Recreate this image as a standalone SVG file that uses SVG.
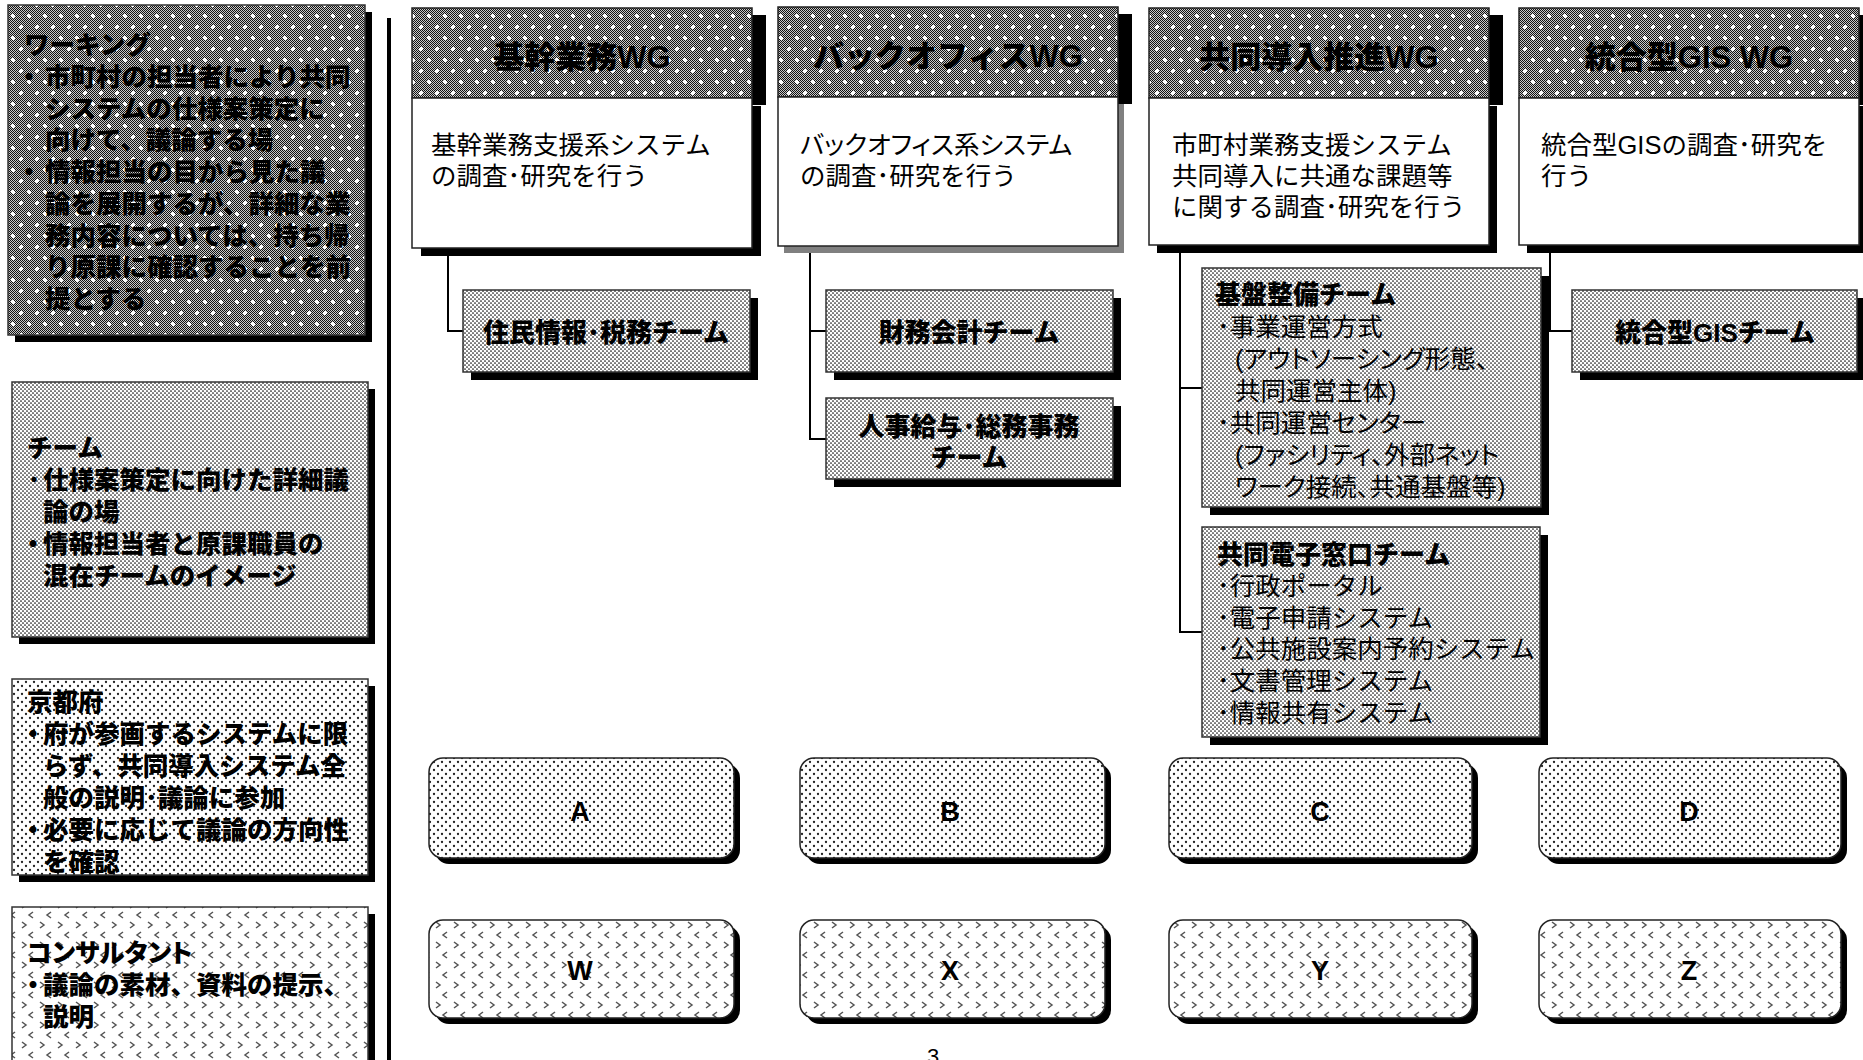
<svg xmlns="http://www.w3.org/2000/svg" width="1863" height="1060" viewBox="0 0 1863 1060">
<defs>
<style>
text { font-family: "Liberation Sans", "Noto Sans CJK JP", sans-serif; fill: #000; }
.lb { font-size: 25.5px; font-weight: 900; }
.bu { font-size: 25px; font-weight: 900; text-anchor: middle; }
.hd { font-size: 31px; font-weight: 900; text-anchor: middle; }
.bd { font-size: 25.5px; }
.tm { font-size: 26px; font-weight: 900; text-anchor: middle; }
.tt { font-size: 26px; font-weight: 900; }
.ls { font-size: 25.5px; }
.pa { font-feature-settings: "palt"; }
.ltr { font-family: "Liberation Sans Narrow", "Liberation Sans", sans-serif; font-size: 27px; font-weight: 700; text-anchor: middle; }
.pg { font-size: 22px; text-anchor: middle; }
.frame { stroke: #333; stroke-width: 1.5; }
.wg { stroke: #222; stroke-width: 1.5; }
.sh { fill: #000; }
.conn { fill: none; stroke: #000; stroke-width: 2; }
</style>
<pattern id="chk" width="2" height="2" patternUnits="userSpaceOnUse">
<rect width="2" height="2" fill="#c8c8c8"/>
<rect width="1" height="1" fill="#111"/>
<rect x="1" y="1" width="1" height="1" fill="#111"/>
</pattern>
<pattern id="pHdr" width="16" height="22" patternUnits="userSpaceOnUse">
<rect width="16" height="22" fill="url(#chk)"/>
<path d="M3 4h4v2h-4z M4 3h2v4h-2z M11 15h4v2h-4z M12 14h2v4h-2z" fill="#fff"/>
</pattern>
<pattern id="pDense" width="4" height="4" patternUnits="userSpaceOnUse">
<rect width="4" height="4" fill="#fff"/>
<circle cx="1" cy="1" r="0.85" fill="#111"/>
<circle cx="3" cy="3" r="0.85" fill="#111"/>
</pattern>
<pattern id="pSparse" width="8" height="8" patternUnits="userSpaceOnUse">
<rect width="8" height="8" fill="#fff"/>
<circle cx="2" cy="2" r="1.15" fill="#222"/>
<circle cx="6" cy="6" r="1.15" fill="#222"/>
</pattern>
<pattern id="pChev" width="18" height="20" patternUnits="userSpaceOnUse">
<rect width="18" height="20" fill="#fff"/>
<path d="M4 2 L8 5 L4 8 M15 12 L11 15 L15 18" fill="none" stroke="#555" stroke-width="1.5"/>
</pattern>
</defs>

<rect width="1863" height="1060" fill="#fff"/>

<rect x="387" y="18" width="4" height="1042" fill="#000"/>

<g id="connectors">
<path class="conn" d="M448 248 V331 H463"/>
<path class="conn" d="M810 247 V439 H826 M810 331 H826"/>
<path class="conn" d="M1180 247 V632 H1202 M1180 388 H1202"/>
<path class="conn" d="M1550 247 V331 H1572"/>
</g>

<g id="legend-working">
<rect class="sh" x="15" y="12" width="357" height="330"/>
<rect class="frame" x="8" y="5" width="357" height="330" fill="url(#pHdr)"/>
<text class="lb" x="24" y="54">ワーキング</text>
<text class="bu" x="29" y="86">・</text>
<text class="lb" x="45" y="86">市町村の担当者により共同</text>
<text class="lb" x="45" y="118">システムの仕様案策定に</text>
<text class="lb" x="45" y="149">向けて、議論する場</text>
<text class="bu" x="29" y="181">・</text>
<text class="lb" x="45" y="181">情報担当の目から見た議</text>
<text class="lb" x="45" y="213">論を展開するが、詳細な業</text>
<text class="lb" x="45" y="245">務内容については、持ち帰</text>
<text class="lb" x="45" y="276">り原課に確認することを前</text>
<text class="lb" x="45" y="308">提とする</text>
</g>

<g id="legend-team">
<rect class="sh" x="19" y="389" width="356" height="255"/>
<rect class="frame" x="12" y="382" width="356" height="255" fill="url(#pDense)"/>
<text class="lb" x="27" y="457">チーム</text>
<text class="bu" x="34" y="489">･</text>
<text class="lb" x="43" y="489">仕様案策定に向けた詳細議</text>
<text class="lb" x="43" y="521">論の場</text>
<text class="bu" x="33" y="553">・</text>
<text class="lb" x="43" y="553">情報担当者と原課職員の</text>
<text class="lb" x="43" y="585">混在チームのイメージ</text>
</g>

<g id="legend-kyoto">
<rect class="sh" x="19" y="686" width="356" height="196"/>
<rect class="frame" x="12" y="679" width="356" height="196" fill="url(#pSparse)"/>
<text class="lb" x="27" y="711">京都府</text>
<text class="bu" x="33" y="743">・</text>
<text class="lb" x="43" y="743">府が参画するシステムに限</text>
<text class="lb" x="43" y="775">らず、共同導入システム全</text>
<text class="lb" x="43" y="807">般の説明･議論に参加</text>
<text class="bu" x="33" y="839">・</text>
<text class="lb" x="43" y="839">必要に応じて議論の方向性</text>
<text class="lb" x="43" y="871">を確認</text>
</g>

<g id="legend-consultant">
<rect class="sh" x="19" y="914" width="356" height="170"/>
<rect class="frame" x="12" y="907" width="356" height="170" fill="url(#pChev)"/>
<text class="lb pa" x="27" y="962">コンサルタント</text>
<text class="bu" x="33" y="994">・</text>
<text class="lb" x="43" y="994">議論の素材、資料の提示、</text>
<text class="lb" x="43" y="1026">説明</text>
</g>

<g id="wg-kikan">
<rect class="sh" x="426" y="15" width="340" height="90"/>
<rect class="sh" x="421" y="106" width="340" height="150"/>
<rect class="wg" x="412" y="8" width="340" height="90" fill="url(#pHdr)"/>
<rect class="wg" x="412" y="98" width="340" height="150" fill="#fff"/>
<text class="hd" x="582" y="68">基幹業務WG</text>
<text class="bd" x="431" y="154">基幹業務支援系システム</text>
<text class="bd" x="431" y="185">の調査･研究を行う</text>
</g>

<g id="wg-backoffice">
<rect class="sh" x="792" y="14" width="340" height="90"/>
<rect x="784" y="104" width="340" height="149" fill="#808080"/>
<rect class="wg" x="778" y="7" width="340" height="90" fill="url(#pHdr)"/>
<rect class="wg" x="778" y="97" width="340" height="149" fill="#fff"/>
<text class="hd" x="948" y="67">バックオフィスWG</text>
<text class="bd pa" x="800" y="154">バックオフィス系システム</text>
<text class="bd" x="800" y="185">の調査･研究を行う</text>
</g>

<g id="wg-kyodo">
<rect class="sh" x="1163" y="15" width="340" height="90"/>
<rect class="sh" x="1157" y="106" width="340" height="147"/>
<rect class="wg" x="1149" y="8" width="340" height="90" fill="url(#pHdr)"/>
<rect class="wg" x="1149" y="98" width="340" height="147" fill="#fff"/>
<text class="hd" x="1319" y="68">共同導入推進WG</text>
<text class="bd" x="1172" y="154">市町村業務支援システム</text>
<text class="bd" x="1172" y="185">共同導入に共通な課題等</text>
<text class="bd" x="1172" y="216">に関する調査･研究を行う</text>
</g>

<g id="wg-gis">
<rect class="sh" x="1533" y="15" width="340" height="90"/>
<rect class="sh" x="1527" y="106" width="340" height="147"/>
<rect class="wg" x="1519" y="8" width="340" height="90" fill="url(#pHdr)"/>
<rect class="wg" x="1519" y="98" width="340" height="147" fill="#fff"/>
<text class="hd" x="1689" y="68">統合型GIS WG</text>
<text class="bd" x="1541" y="154">統合型GISの調査･研究を</text>
<text class="bd" x="1541" y="185">行う</text>
</g>

<g id="team-jumin">
<rect class="sh" x="471" y="298" width="287" height="82"/>
<rect class="frame" x="463" y="290" width="287" height="82" fill="url(#pDense)"/>
<text class="tm" x="606" y="342">住民情報･税務チーム</text>
</g>

<g id="team-zaimu">
<rect class="sh" x="834" y="298" width="287" height="82"/>
<rect class="frame" x="826" y="290" width="287" height="82" fill="url(#pDense)"/>
<text class="tm" x="969" y="342">財務会計チーム</text>
</g>

<g id="team-jinji">
<rect class="sh" x="834" y="406" width="287" height="81"/>
<rect class="frame" x="826" y="398" width="287" height="81" fill="url(#pDense)"/>
<text class="tm" x="969" y="436">人事給与･総務事務</text>
<text class="tm" x="969" y="467">チーム</text>
</g>

<g id="team-kiban">
<rect class="sh" x="1210" y="276" width="339" height="239"/>
<rect class="frame" x="1202" y="268" width="339" height="239" fill="url(#pDense)"/>
<text class="tt" x="1215" y="304">基盤整備チーム</text>
<text class="ls pa" x="1217" y="336">･事業運営方式</text>
<text class="ls pa" x="1235" y="368">(アウトソーシング形態、</text>
<text class="ls pa" x="1235" y="400">共同運営主体)</text>
<text class="ls pa" x="1217" y="432">･共同運営センター</text>
<text class="ls pa" x="1235" y="464">(ファシリティ、外部ネット</text>
<text class="ls pa" x="1235" y="496">ワーク接続、共通基盤等)</text>
</g>

<g id="team-denshi">
<rect class="sh" x="1210" y="535" width="338" height="210"/>
<rect class="frame" x="1202" y="527" width="338" height="210" fill="url(#pDense)"/>
<text class="tt" x="1217" y="564">共同電子窓口チーム</text>
<text class="ls" x="1217" y="595">･行政ポータル</text>
<text class="ls" x="1217" y="627">･電子申請システム</text>
<text class="ls" x="1217" y="658">･公共施設案内予約システム</text>
<text class="ls" x="1217" y="690">･文書管理システム</text>
<text class="ls" x="1217" y="722">･情報共有システム</text>
</g>

<g id="team-gis">
<rect class="sh" x="1580" y="298" width="285" height="82"/>
<rect class="frame" x="1572" y="290" width="285" height="82" fill="url(#pDense)"/>
<text class="tm" x="1715" y="342">統合型GISチーム</text>
</g>

<g id="box-A">
<rect class="sh" x="435" y="764" width="305" height="100" rx="14"/>
<rect class="wg" x="429" y="758" width="305" height="100" rx="14" fill="url(#pSparse)"/>
<text class="ltr" x="580" y="821">A</text>
</g>
<g id="box-B">
<rect class="sh" x="806" y="764" width="305" height="100" rx="14"/>
<rect class="wg" x="800" y="758" width="305" height="100" rx="14" fill="url(#pSparse)"/>
<text class="ltr" x="950" y="821">B</text>
</g>
<g id="box-C">
<rect class="sh" x="1175" y="764" width="303" height="100" rx="14"/>
<rect class="wg" x="1169" y="758" width="303" height="100" rx="14" fill="url(#pSparse)"/>
<text class="ltr" x="1320" y="821">C</text>
</g>
<g id="box-D">
<rect class="sh" x="1545" y="764" width="302" height="100" rx="14"/>
<rect class="wg" x="1539" y="758" width="302" height="100" rx="14" fill="url(#pSparse)"/>
<text class="ltr" x="1689" y="821">D</text>
</g>

<g id="box-W">
<rect class="sh" x="435" y="926" width="305" height="98" rx="14"/>
<rect class="wg" x="429" y="920" width="305" height="98" rx="14" fill="url(#pChev)"/>
<text class="ltr" x="580" y="980">W</text>
</g>
<g id="box-X">
<rect class="sh" x="806" y="926" width="305" height="98" rx="14"/>
<rect class="wg" x="800" y="920" width="305" height="98" rx="14" fill="url(#pChev)"/>
<text class="ltr" x="950" y="980">X</text>
</g>
<g id="box-Y">
<rect class="sh" x="1175" y="926" width="303" height="98" rx="14"/>
<rect class="wg" x="1169" y="920" width="303" height="98" rx="14" fill="url(#pChev)"/>
<text class="ltr" x="1320" y="980">Y</text>
</g>
<g id="box-Z">
<rect class="sh" x="1545" y="926" width="302" height="98" rx="14"/>
<rect class="wg" x="1539" y="920" width="302" height="98" rx="14" fill="url(#pChev)"/>
<text class="ltr" x="1689" y="980">Z</text>
</g>

<text class="pg" x="933" y="1064">3</text>
</svg>
